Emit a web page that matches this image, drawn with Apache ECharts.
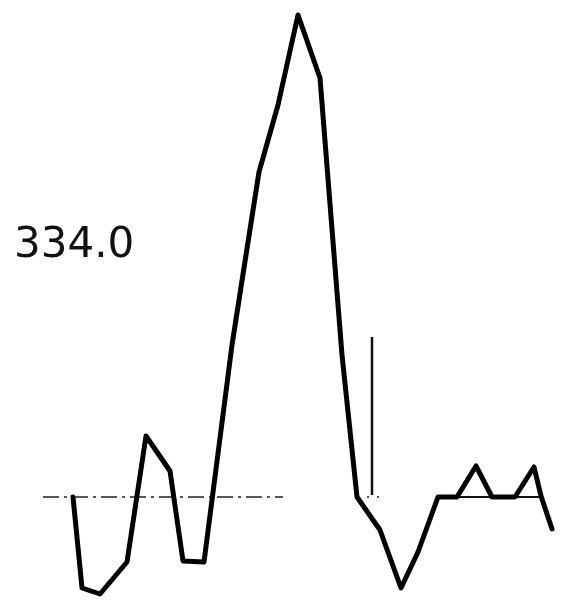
<!DOCTYPE html>
<html>
<head>
<meta charset="utf-8">
<script src="https://cdn.jsdelivr.net/npm/echarts@6/dist/echarts.min.js"></script>
<style>
  html, body { margin: 0; padding: 0; background: #fff; }
  #chart { width: 561px; height: 601px; }
</style>
</head>
<body>
<div id="chart"></div>
<script>
// trace position (arbitrary units) and height above the baseline
const traceX = [73, 82, 100, 127, 146, 170, 183, 204, 232, 246, 259, 278, 298, 320, 342, 357, 380, 401, 418, 438, 457, 476, 492, 515, 534, 541, 552];
const traceY = [0, -91, -97, -65, 61, 26, -64, -65, 152, 242, 325, 392, 482, 419, 142, 0, -33, -91, -55, 0, 0, 31, 0, 0, 30, 1, -32];
// marker line at 334.0
const markerX = [372, 372];
const markerY = [160, 2];
// dash-dot baseline pieces
const baseX = [43, 283];
const baseDotX = [357, 386];
const baseThinX = [438, 541];
const label = '334.0';

const chart = echarts.init(document.getElementById('chart'));

const pairs = (xs, ys) => xs.map((x, i) => [x, ys[i]]);
const flat = xs => xs.map(x => [x, 0]);

const option = {
	backgroundColor: '#fff',
	animation: false,
	grid: { left: 0, right: 0, top: 0, bottom: 0 },
	xAxis: { type: 'value', min: 0, max: 561, show: false },
	yAxis: { type: 'value', min: -104, max: 497, show: false },
	graphic: [
		{
			type: 'text',
			left: 14,
			top: 225,
			style: {
				text: label,
				font: '42px "DejaVu Sans"',
				fill: '#111',
			},
		},
	],
	series: [
		{
			type: 'line',
			data: flat(baseX),
			symbol: 'none',
			lineStyle: { color: '#222', width: 1.6, type: [16, 5, 3, 5] },
		},
		{
			type: 'line',
			data: flat(baseDotX),
			symbol: 'none',
			lineStyle: { color: '#222', width: 1.5, type: [2, 8] },
		},
		{
			type: 'line',
			data: flat(baseThinX),
			symbol: 'none',
			lineStyle: { color: '#111', width: 2 },
		},
		{
			type: 'line',
			data: pairs(markerX, markerY),
			symbol: 'none',
			lineStyle: { color: '#111', width: 2.5 },
		},
		{
			type: 'line',
			data: pairs(traceX, traceY),
			symbol: 'none',
			lineStyle: { color: '#000', width: 5, join: 'round', cap: 'round' },
		},
	],
};

option && chart.setOption(option);
</script>
</body>
</html>
